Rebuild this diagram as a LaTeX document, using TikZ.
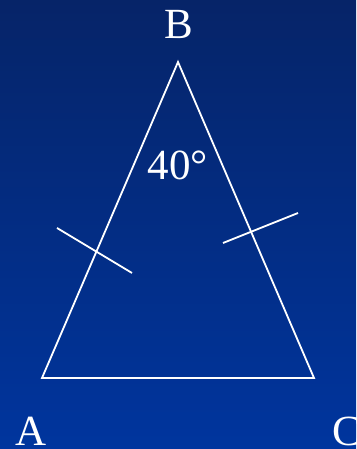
\documentclass[tikz,border=0pt]{standalone}
\usepackage{fontspec}
\setmainfont{Liberation Serif}
\usepackage{tikz}
\usetikzlibrary{positioning,calc}
\definecolor{skytop}{HTML}{062468}
\definecolor{skybot}{HTML}{00359E}
\tikzset{
  % triangel
  side/.style={draw=white,line width=1.8pt,line join=miter},
  tick/.style={draw=white,line width=1.8pt},
  vlab/.style={text=white,font=\fontsize{43}{43}\selectfont,inner sep=0pt},
}
\begin{document}
\begin{tikzpicture}[x=1pt,y=1pt]
  \shade[top color=skytop,bottom color=skybot] (0,0) rectangle (356,449);
  \useasboundingbox (0,0) rectangle (356,449);
  \coordinate (A) at (42,71);
  \coordinate (B) at (178,387);
  \coordinate (C) at (314,71);
  \draw[side] (A) -- (B) -- (C) -- cycle;
  % likhetsstreck
  \coordinate (t1) at (57,221);  \coordinate (t2) at (132,176);
  \coordinate (t3) at (223,206); \coordinate (t4) at (298,236);
  \draw[tick] (t1) -- (t2);
  \draw[tick] (t3) -- (t4);
  \node[vlab,anchor=base] (lB) at (179,410) {B};
  \node[vlab,anchor=base] (lA) at (31,3) {A};
  \node[vlab,anchor=base west] (lC) at (332,3) {C};
  \node[vlab,anchor=base] (ang) at (178,269) {40°};
\end{tikzpicture}
\end{document}
